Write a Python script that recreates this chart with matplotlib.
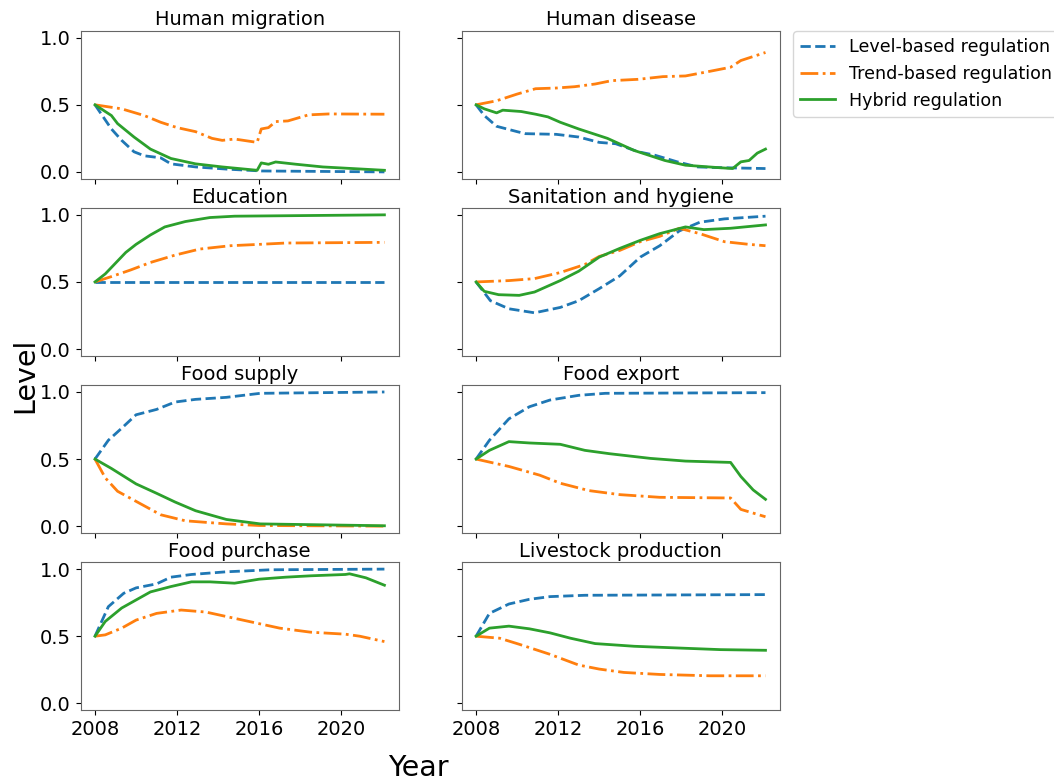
import matplotlib
matplotlib.use("Agg")
import matplotlib.pyplot as plt

# ---------------- data (year, level) ----------------
titles = ["Human migration", "Human disease", "Education", "Sanitation and hygiene",
          "Food supply", "Food export", "Food purchase", "Livestock production"]
series_labels = ["Level-based regulation", "Trend-based regulation", "Hybrid regulation"]
xticks = [2008, 2012, 2016, 2020]
yticks = [0.0, 0.5, 1.0]

migration_level = [(2008, 0.5), (2008.8, 0.32), (2009.3, 0.235), (2009.9, 0.15), (2010.4, 0.12),
                   (2011.2, 0.105), (2011.7, 0.06), (2012.9, 0.037), (2014.5, 0.02), (2016.1, 0.007),
                   (2022.1, 0.0)]
migration_trend = [(2008, 0.5), (2009.3, 0.47), (2010.4, 0.42), (2011.2, 0.37), (2012, 0.33),
                   (2012.9, 0.30), (2013.7, 0.25), (2014.2, 0.235), (2014.8, 0.245), (2015.9, 0.22),
                   (2016.1, 0.32), (2016.45, 0.33), (2016.8, 0.375), (2017.4, 0.38), (2018.4, 0.425),
                   (2019.4, 0.432), (2022.1, 0.43)]
migration_hybrid = [(2008, 0.5), (2008.8, 0.42), (2009.1, 0.36), (2009.9, 0.26), (2010.7, 0.17),
                    (2011.7, 0.10), (2012.9, 0.06), (2014.2, 0.037), (2015.9, 0.012), (2016.1, 0.067),
                    (2016.45, 0.057), (2016.8, 0.074), (2017.8, 0.057), (2019.1, 0.037), (2022.1, 0.012)]

disease_level = [(2008, 0.5), (2008.4, 0.42), (2009, 0.34), (2010, 0.30), (2010.4, 0.285),
                 (2011.9, 0.28), (2013, 0.26), (2014, 0.22), (2014.8, 0.21), (2015.9, 0.15),
                 (2016.7, 0.125), (2017.8, 0.075), (2018.8, 0.037), (2019.8, 0.032), (2022.1, 0.025)]
disease_trend = [(2008, 0.5), (2009, 0.53), (2010, 0.58), (2010.9, 0.62), (2011.9, 0.625),
                 (2012.8, 0.635), (2013.8, 0.655), (2014.6, 0.68), (2015.9, 0.69), (2017.1, 0.71),
                 (2018.2, 0.715), (2019.4, 0.75), (2020.4, 0.78), (2020.9, 0.83), (2022.1, 0.89)]
disease_hybrid = [(2008, 0.5), (2008.4, 0.47), (2009, 0.44), (2009.3, 0.46), (2010.2, 0.45),
                  (2010.9, 0.43), (2011.5, 0.41), (2012.1, 0.37), (2013, 0.32), (2014.4, 0.25),
                  (2015.7, 0.16), (2017.2, 0.085), (2018.2, 0.05), (2019.8, 0.032), (2020.5, 0.025),
                  (2020.9, 0.075), (2021.3, 0.085), (2021.7, 0.14), (2022.1, 0.17)]

education_level = [(2008, 0.5), (2022.1, 0.5)]
education_trend = [(2008, 0.5), (2008.8, 0.54), (2009.75, 0.59), (2010.7, 0.645), (2011.9, 0.70),
                   (2013.1, 0.745), (2014.6, 0.77), (2016, 0.78), (2017.3, 0.79), (2022.1, 0.795)]
education_hybrid = [(2008, 0.5), (2008.5, 0.56), (2009, 0.64), (2009.5, 0.72), (2010, 0.78),
                    (2010.7, 0.85), (2011.4, 0.91), (2012.4, 0.95), (2013.6, 0.98), (2014.8, 0.99),
                    (2022.1, 1.0)]

sanitation_level = [(2008, 0.5), (2008.7, 0.36), (2009.6, 0.30), (2010.85, 0.27), (2012.1, 0.31),
                    (2013, 0.36), (2014, 0.45), (2015, 0.545), (2016, 0.685), (2016.95, 0.77),
                    (2017.9, 0.88), (2018.9, 0.945), (2020.1, 0.97), (2022.1, 0.99)]
sanitation_trend = [(2008, 0.5), (2009.6, 0.51), (2010.85, 0.525), (2012.1, 0.57), (2013.3, 0.63),
                    (2014, 0.69), (2015, 0.735), (2016, 0.80), (2016.95, 0.84), (2017.9, 0.90),
                    (2018.9, 0.86), (2020.1, 0.80), (2021.3, 0.78), (2022.1, 0.77)]
sanitation_hybrid = [(2008, 0.5), (2008.4, 0.43), (2009.1, 0.405), (2010.1, 0.40), (2010.85, 0.425),
                     (2012.1, 0.51), (2013, 0.58), (2014, 0.685), (2015, 0.75), (2016, 0.81),
                     (2016.95, 0.86), (2018.2, 0.91), (2019.1, 0.89), (2020.4, 0.90), (2022.1, 0.925)]

supply_level = [(2008, 0.5), (2008.65, 0.64), (2009.3, 0.73), (2010, 0.83), (2011, 0.87),
                (2011.9, 0.925), (2012.9, 0.945), (2014.4, 0.96), (2016.05, 0.99), (2022.1, 1.0)]
supply_trend = [(2008, 0.5), (2008.5, 0.36), (2009.1, 0.26), (2010, 0.185), (2011.2, 0.085),
                (2012.4, 0.04), (2014.4, 0.017), (2016, 0.005), (2022.1, 0.0)]
supply_hybrid = [(2008, 0.5), (2008.8, 0.43), (2010, 0.315), (2011, 0.245), (2011.9, 0.18),
                 (2012.9, 0.115), (2014.4, 0.05), (2016.05, 0.017), (2022.1, 0.003)]

export_level = [(2008, 0.5), (2008.65, 0.64), (2009.6, 0.80), (2010.6, 0.89), (2011.6, 0.94),
                (2013, 0.975), (2014.3, 0.99), (2022.1, 0.995)]
export_trend = [(2008, 0.5), (2009.6, 0.445), (2011.1, 0.38), (2012.1, 0.32), (2013.5, 0.265),
                (2015, 0.235), (2016.95, 0.215), (2020.4, 0.21), (2020.9, 0.125), (2022.1, 0.07)]
export_hybrid = [(2008, 0.5), (2008.65, 0.565), (2009.6, 0.63), (2010.6, 0.62), (2012.1, 0.61),
                 (2013.3, 0.565), (2014.5, 0.54), (2016.5, 0.505), (2018.2, 0.485), (2020.4, 0.475),
                 (2020.9, 0.37), (2021.5, 0.27), (2022.1, 0.20)]

purchase_level = [(2008, 0.5), (2008.65, 0.72), (2009.4, 0.82), (2010, 0.86), (2011, 0.89),
                  (2011.7, 0.94), (2012.7, 0.96), (2014.4, 0.98), (2016.55, 0.995), (2022.1, 1.0)]
purchase_trend = [(2008, 0.5), (2008.5, 0.51), (2009.3, 0.56), (2010, 0.62), (2011, 0.67),
                  (2012.2, 0.695), (2013.4, 0.68), (2014.6, 0.64), (2015.8, 0.60), (2017, 0.56),
                  (2018.5, 0.53), (2020.2, 0.515), (2020.9, 0.50), (2022.1, 0.46)]
purchase_hybrid = [(2008, 0.5), (2008.5, 0.61), (2009.3, 0.71), (2010, 0.77), (2010.7, 0.83),
                   (2011.7, 0.87), (2012.7, 0.905), (2013.6, 0.905), (2014.8, 0.895), (2016, 0.925),
                   (2017.3, 0.94), (2018.5, 0.95), (2020.2, 0.96), (2020.4, 0.965), (2021.2, 0.935),
                   (2022.1, 0.88)]

livestock_level = [(2008, 0.5), (2008.65, 0.67), (2009.6, 0.74), (2010.6, 0.775), (2011.6, 0.795),
                   (2013.3, 0.805), (2022.1, 0.81)]
livestock_trend = [(2008, 0.5), (2009.15, 0.485), (2010.1, 0.44), (2011.6, 0.365), (2013, 0.285),
                   (2014, 0.255), (2015.2, 0.23), (2016.95, 0.215), (2019.4, 0.205), (2022.1, 0.205)]
livestock_hybrid = [(2008, 0.5), (2008.65, 0.56), (2009.6, 0.575), (2010.6, 0.555), (2011.6, 0.525),
                    (2012.6, 0.485), (2013.8, 0.445), (2015.7, 0.425), (2018.2, 0.41), (2019.9, 0.40),
                    (2022.1, 0.395)]

panels = [
    (migration_level, migration_trend, migration_hybrid),
    (disease_level, disease_trend, disease_hybrid),
    (education_level, education_trend, education_hybrid),
    (sanitation_level, sanitation_trend, sanitation_hybrid),
    (supply_level, supply_trend, supply_hybrid),
    (export_level, export_trend, export_hybrid),
    (purchase_level, purchase_trend, purchase_hybrid),
    (livestock_level, livestock_trend, livestock_hybrid),
]

# ---------------- styling ----------------
colors = ["#1f77b4", "#ff7f0e", "#2ca02c"]
styles = ["--", "-.", "-"]

fig, axes = plt.subplots(4, 2, figsize=(10.54, 7.81), dpi=100, sharex=True, sharey=True)
fig.subplots_adjust(left=0.0764, right=0.740, top=0.9603, bottom=0.0909, wspace=0.197, hspace=0.20)

handles = []
for ax, title, data in zip(axes.flat, titles, panels):
    for i, ser in enumerate(data):
        xs = [p[0] for p in ser]
        ys = [p[1] for p in ser]
        ln, = ax.plot(xs, ys, linestyle=styles[i], color=colors[i], linewidth=2,
                      label=series_labels[i])
        if len(handles) < 3:
            handles.append(ln)
    ax.set_title(title, fontsize=14, pad=4)
    ax.tick_params(labelsize=14)
    for sp in ax.spines.values():
        sp.set_edgecolor("#666666")

axes[0, 0].set_xticks(xticks)
axes[0, 0].set_yticks(yticks)

fig.legend(handles, series_labels, loc="upper left", bbox_to_anchor=(793 / 1054, 1 - 31 / 781),
           borderaxespad=0, fontsize=12.6)

fig.text(33 / 1054, 1 - 375 / 781, "Level", rotation=90, rotation_mode="anchor",
         fontsize=20.5, ha="center", va="baseline")
fig.text(418 / 1054, (781 - 776.5) / 781, "Year", fontsize=20.5, ha="center", va="baseline")

fig.savefig("out.png", dpi=100)
